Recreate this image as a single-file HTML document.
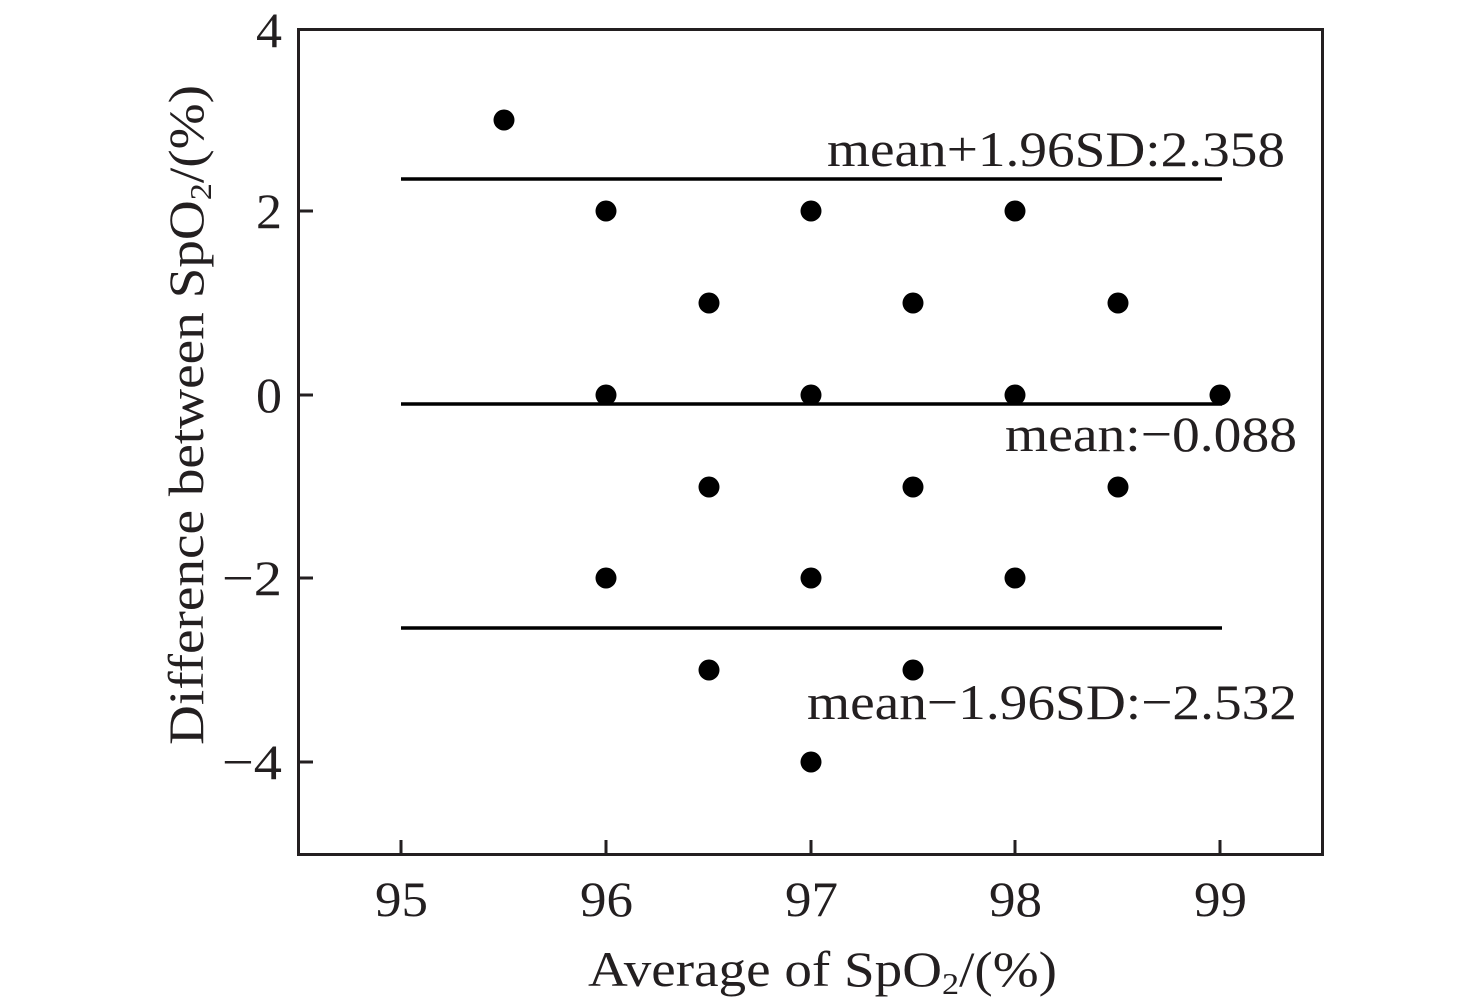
<!DOCTYPE html><html><head><style>body{margin:0;background:#fff}</style></head><body>
<svg width="1476" height="1001" xmlns="http://www.w3.org/2000/svg" font-family="Liberation Serif, serif" fill="#231f20">
<rect x="298.5" y="29.5" width="1024" height="825" fill="none" stroke="#231f20" stroke-width="3"/>
<g stroke="#231f20" stroke-width="3">
<line x1="298" y1="211" x2="313" y2="211"/><line x1="298" y1="395" x2="313" y2="395"/><line x1="298" y1="578" x2="313" y2="578"/><line x1="298" y1="762" x2="313" y2="762"/>
<line x1="401" y1="855" x2="401" y2="840"/><line x1="606" y1="855" x2="606" y2="840"/><line x1="811" y1="855" x2="811" y2="840"/><line x1="1015" y1="855" x2="1015" y2="840"/><line x1="1220" y1="855" x2="1220" y2="840"/>
</g>
<g stroke="#000" stroke-width="3.5">
<line x1="401" y1="179" x2="1222" y2="179"/><line x1="401" y1="404" x2="1222" y2="404"/><line x1="401" y1="628" x2="1222" y2="628"/>
</g>
<g font-size="50">
<text x="256" y="47" textLength="26" lengthAdjust="spacingAndGlyphs">4</text>
<text x="256" y="228" textLength="26" lengthAdjust="spacingAndGlyphs">2</text>
<text x="256" y="412" textLength="26" lengthAdjust="spacingAndGlyphs">0</text>
<text x="222" y="595" textLength="60" lengthAdjust="spacingAndGlyphs">−2</text>
<text x="222" y="779" textLength="60" lengthAdjust="spacingAndGlyphs">−4</text>
<text x="375" y="916" textLength="53" lengthAdjust="spacingAndGlyphs">95</text>
<text x="580" y="916" textLength="53" lengthAdjust="spacingAndGlyphs">96</text>
<text x="785" y="916" textLength="53" lengthAdjust="spacingAndGlyphs">97</text>
<text x="989" y="916" textLength="53" lengthAdjust="spacingAndGlyphs">98</text>
<text x="1194" y="916" textLength="53" lengthAdjust="spacingAndGlyphs">99</text>
<text x="588" y="986" textLength="469" lengthAdjust="spacingAndGlyphs">Average of SpO<tspan font-size="31" dy="8">2</tspan><tspan dy="-8">/(%)</tspan></text>
<text transform="translate(203,745) rotate(-90)" textLength="660" lengthAdjust="spacingAndGlyphs">Difference between SpO<tspan font-size="31" dy="8">2</tspan><tspan dy="-8">/(%)</tspan></text>
<text x="827" y="166" textLength="458" lengthAdjust="spacingAndGlyphs">mean+1.96SD:2.358</text>
<text x="1005" y="451" textLength="292" lengthAdjust="spacingAndGlyphs">mean:−0.088</text>
<text x="807" y="719" textLength="490" lengthAdjust="spacingAndGlyphs">mean−1.96SD:−2.532</text>
</g>
<g fill="#000">
<circle cx="504" cy="120" r="10.5"/>
<circle cx="606" cy="211" r="10.5"/><circle cx="606" cy="395" r="10.5"/><circle cx="606" cy="578" r="10.5"/>
<circle cx="709" cy="303" r="10.5"/><circle cx="709" cy="487" r="10.5"/><circle cx="709" cy="670" r="10.5"/>
<circle cx="811" cy="211" r="10.5"/><circle cx="811" cy="395" r="10.5"/><circle cx="811" cy="578" r="10.5"/><circle cx="811" cy="762" r="10.5"/>
<circle cx="913" cy="303" r="10.5"/><circle cx="913" cy="487" r="10.5"/><circle cx="913" cy="670" r="10.5"/>
<circle cx="1015" cy="211" r="10.5"/><circle cx="1015" cy="395" r="10.5"/><circle cx="1015" cy="578" r="10.5"/>
<circle cx="1118" cy="303" r="10.5"/><circle cx="1118" cy="487" r="10.5"/>
<circle cx="1220" cy="395" r="10.5"/>
</g>
</svg></body></html>
